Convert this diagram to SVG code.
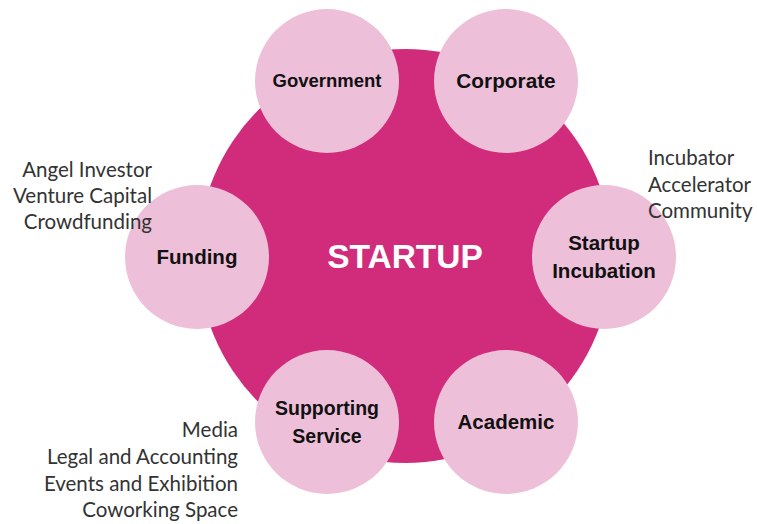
<svg xmlns="http://www.w3.org/2000/svg" width="757" height="524" viewBox="0 0 757 524">
<style>
.hub{fill:#D12C7B}
.sat{fill:#EEBFD9}
.lbl{font-family:"Liberation Sans",Arial,sans-serif;font-weight:bold;fill:#111;text-anchor:middle}
.note{font-family:Lato,"Noto Sans",sans-serif;font-size:20.5px;fill:#333}
</style>
<rect width="757" height="524" fill="#fff"/>
<g id="startup">
<circle class="hub" cx="405" cy="256" r="207"/>
<text x="405" y="268" font-family="Liberation Sans,Arial,sans-serif" font-weight="bold" font-size="33.5" fill="#fff" text-anchor="middle">STARTUP</text>
</g>
<g id="connectors"></g>
<g id="government">
<circle class="sat" cx="327" cy="81" r="72"/>
<text class="lbl" x="327" y="87" font-size="18.5">Government</text>
</g>
<g id="corporate">
<circle class="sat" cx="506" cy="81" r="72"/>
<text class="lbl" x="506" y="88" font-size="20.8">Corporate</text>
</g>
<g id="funding">
<circle class="sat" cx="197" cy="257" r="72"/>
<text class="lbl" x="197" y="264" font-size="20.5">Funding</text>
</g>
<g id="startup-incubation">
<circle class="sat" cx="604" cy="257" r="72"/>
<text class="lbl" x="604" y="250" font-size="20.5">Startup</text>
<text class="lbl" x="604" y="278" font-size="20.5">Incubation</text>
</g>
<g id="supporting-service">
<circle class="sat" cx="327" cy="422" r="72"/>
<text class="lbl" x="327" y="415" font-size="19.5">Supporting</text>
<text class="lbl" x="327" y="443" font-size="19.5">Service</text>
</g>
<g id="academic">
<circle class="sat" cx="506" cy="422" r="72"/>
<text class="lbl" x="506" y="429" font-size="20.5">Academic</text>
</g>
<g id="funding-notes" class="note" text-anchor="end">
<text x="152" y="177">Angel Investor</text>
<text x="152" y="203">Venture Capital</text>
<text x="152" y="229">Crowdfunding</text>
</g>
<g id="incubation-notes" class="note">
<text x="648" y="165">Incubator</text>
<text x="648" y="192">Accelerator</text>
<text x="648" y="218">Community</text>
</g>
<g id="service-notes" class="note" text-anchor="end">
<text x="238" y="437">Media</text>
<text x="238" y="464">Legal and Accounting</text>
<text x="238" y="491">Events and Exhibition</text>
<text x="238" y="517">Coworking Space</text>
</g>
</svg>
